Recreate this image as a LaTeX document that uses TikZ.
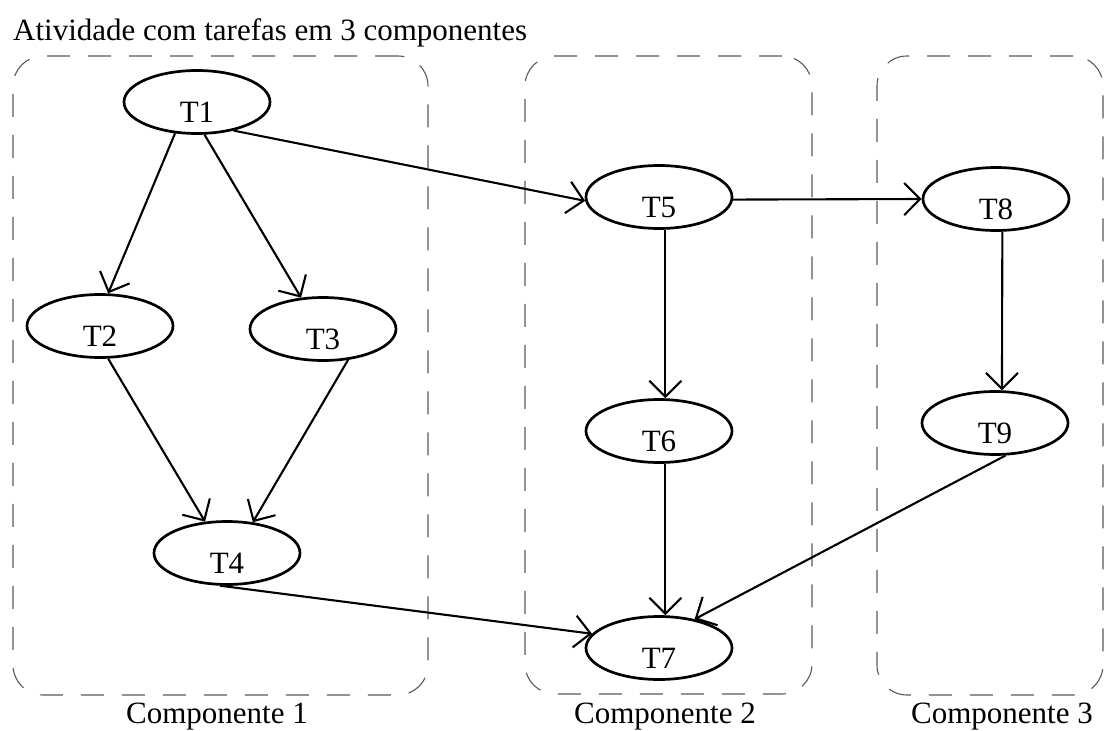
\documentclass[tikz,border=0pt]{standalone}
\usepackage{fontspec}
\setmainfont{Liberation Serif}
\usetikzlibrary{shapes.geometric,arrows.meta}
\begin{document}
\begin{tikzpicture}[x=1pt,y=-1pt,
  every node/.style={font=\fontsize{31}{37}\selectfont},
  task/.style={draw, ellipse, line width=2.7pt, minimum width=146pt,
    minimum height=63pt, inner sep=0pt, text height=40pt, text depth=0pt},
  comp/.style={draw=black!65, line width=1.1pt, dash pattern=on 23pt off 18pt,
    rounded corners=30pt, inner sep=0pt},
  flow/.style={line width=2.1pt,
    -{Straight Barb[length=16pt,width=32pt,line width=2.1pt]}},
]
\useasboundingbox (0,0) rectangle (1104,731);

% title
\node[anchor=base west, inner sep=0pt] (title) at (13,40)
  {Atividade com tarefas em 3 componentes};

% component frames and their captions
\node[comp, minimum width=415pt, minimum height=639pt] (comp1) at (220.5,375.5) {};
\node[comp, minimum width=287pt, minimum height=638pt] (comp2) at (668.5,375) {};
\node[comp, minimum width=226pt, minimum height=639pt] (comp3) at (990,375.5) {};
\node[anchor=base] (lab1) at (217,723) {Componente 1};
\node[anchor=base] (lab2) at (665,723) {Componente 2};
\node[anchor=base] (lab3) at (1002,723) {Componente 3};

% tasks
\node[task] (T1) at (197,102) {T1};
\node[task] (T2) at (100,326) {T2};
\node[task] (T3) at (323,329) {T3};
\node[task] (T4) at (227,553) {T4};
\node[task] (T5) at (659,197) {T5};
\node[task] (T6) at (659,431) {T6};
\node[task] (T7) at (659,648) {T7};
\node[task] (T8) at (996,199) {T8};
\node[task] (T9) at (995,423) {T9};

% dependencies
\draw[flow] (T1.235) -- (T2.76);
\draw[flow] (T1.283) -- (T3.125);
\draw[flow] (T1.322) -- (T5.183);
\draw[flow] (T2.284) -- (T4.125);
\draw[flow] (T3.309) -- (T4.50);
\draw[flow] (T4.258) -- (T7.168);
\draw[flow] (T5.358) -- (T8.180);
\draw[flow] (T5.281) -- (T6.79);
\draw[flow] (T6.281) -- (T7.79);
\draw[flow] (T8.281) -- (T9.78);
\draw[flow] (T9.288) -- (T7.39);
\end{tikzpicture}
\end{document}
